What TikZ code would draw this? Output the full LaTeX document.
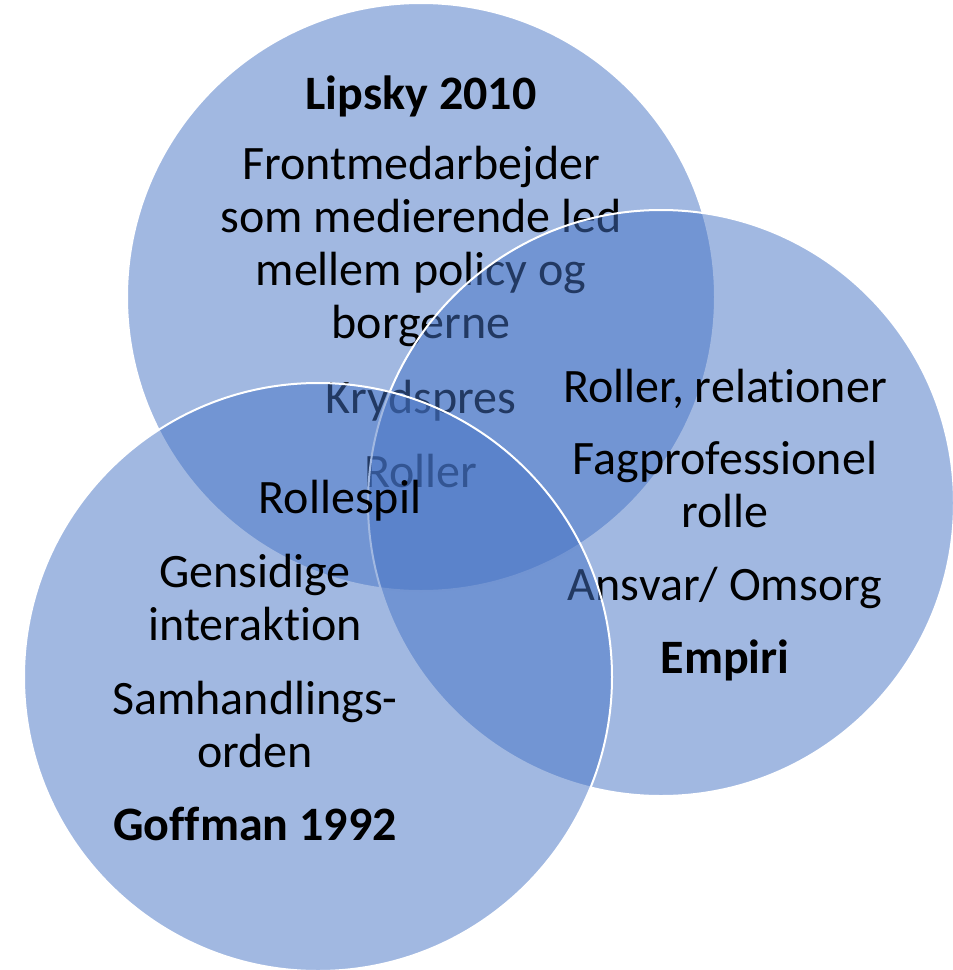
\documentclass[tikz,border=0pt]{standalone}
\usepackage{fontspec}
\setmainfont{Carlito}[Ligatures=NoCommon]
\usepackage{tikz}
\usetikzlibrary{positioning}
\definecolor{vennblue}{RGB}{68,114,196}

\begin{document}
\begin{tikzpicture}[
  x=1pt, y=-1pt,
  every node/.style={font=\fontsize{48}{52.7}\selectfont, align=center, anchor=base, inner sep=0pt},
  ring/.style={fill=vennblue, fill opacity=0.5, draw=white, line width=2pt},
  head/.style={font=\fontsize{48}{52.7}\selectfont\bfseries},
]
\useasboundingbox (0,0) rectangle (953,970);
% Lipsky
\path[ring] (421,297) circle[radius=294];
\node[head] (lipsky) at (421,109) {Lipsky 2010};
\node (front) at (421,338) {Frontmedarbejder\\som medierende led\\mellem policy og\\borgerne};
\node (kryds) at (421,413) {Krydspres};
\node (roller) at (421,487) {Roller};
% Empiri
\path[ring] (661,503) circle[radius=293];
\node (relat) at (725,402) {Roller, relationer};
\node (fagpro) at (725,527) {Fagprofessionel\\rolle};
\node (ansvar) at (725,600) {Ansvar/ Omsorg};
\node[head] (empiri) at (725,673) {Empiri};
% Goffman
\path[ring] (318,677) circle[radius=294];
\node (spil) at (340,513) {Rollespil};
\node (gensid) at (255,640) {Gensidige\\interaktion};
\node (samh) at (255,767) {Samhandlings-\\orden};
\node[head] (goffman) at (255,840) {Goffman 1992};
\end{tikzpicture}
\end{document}
